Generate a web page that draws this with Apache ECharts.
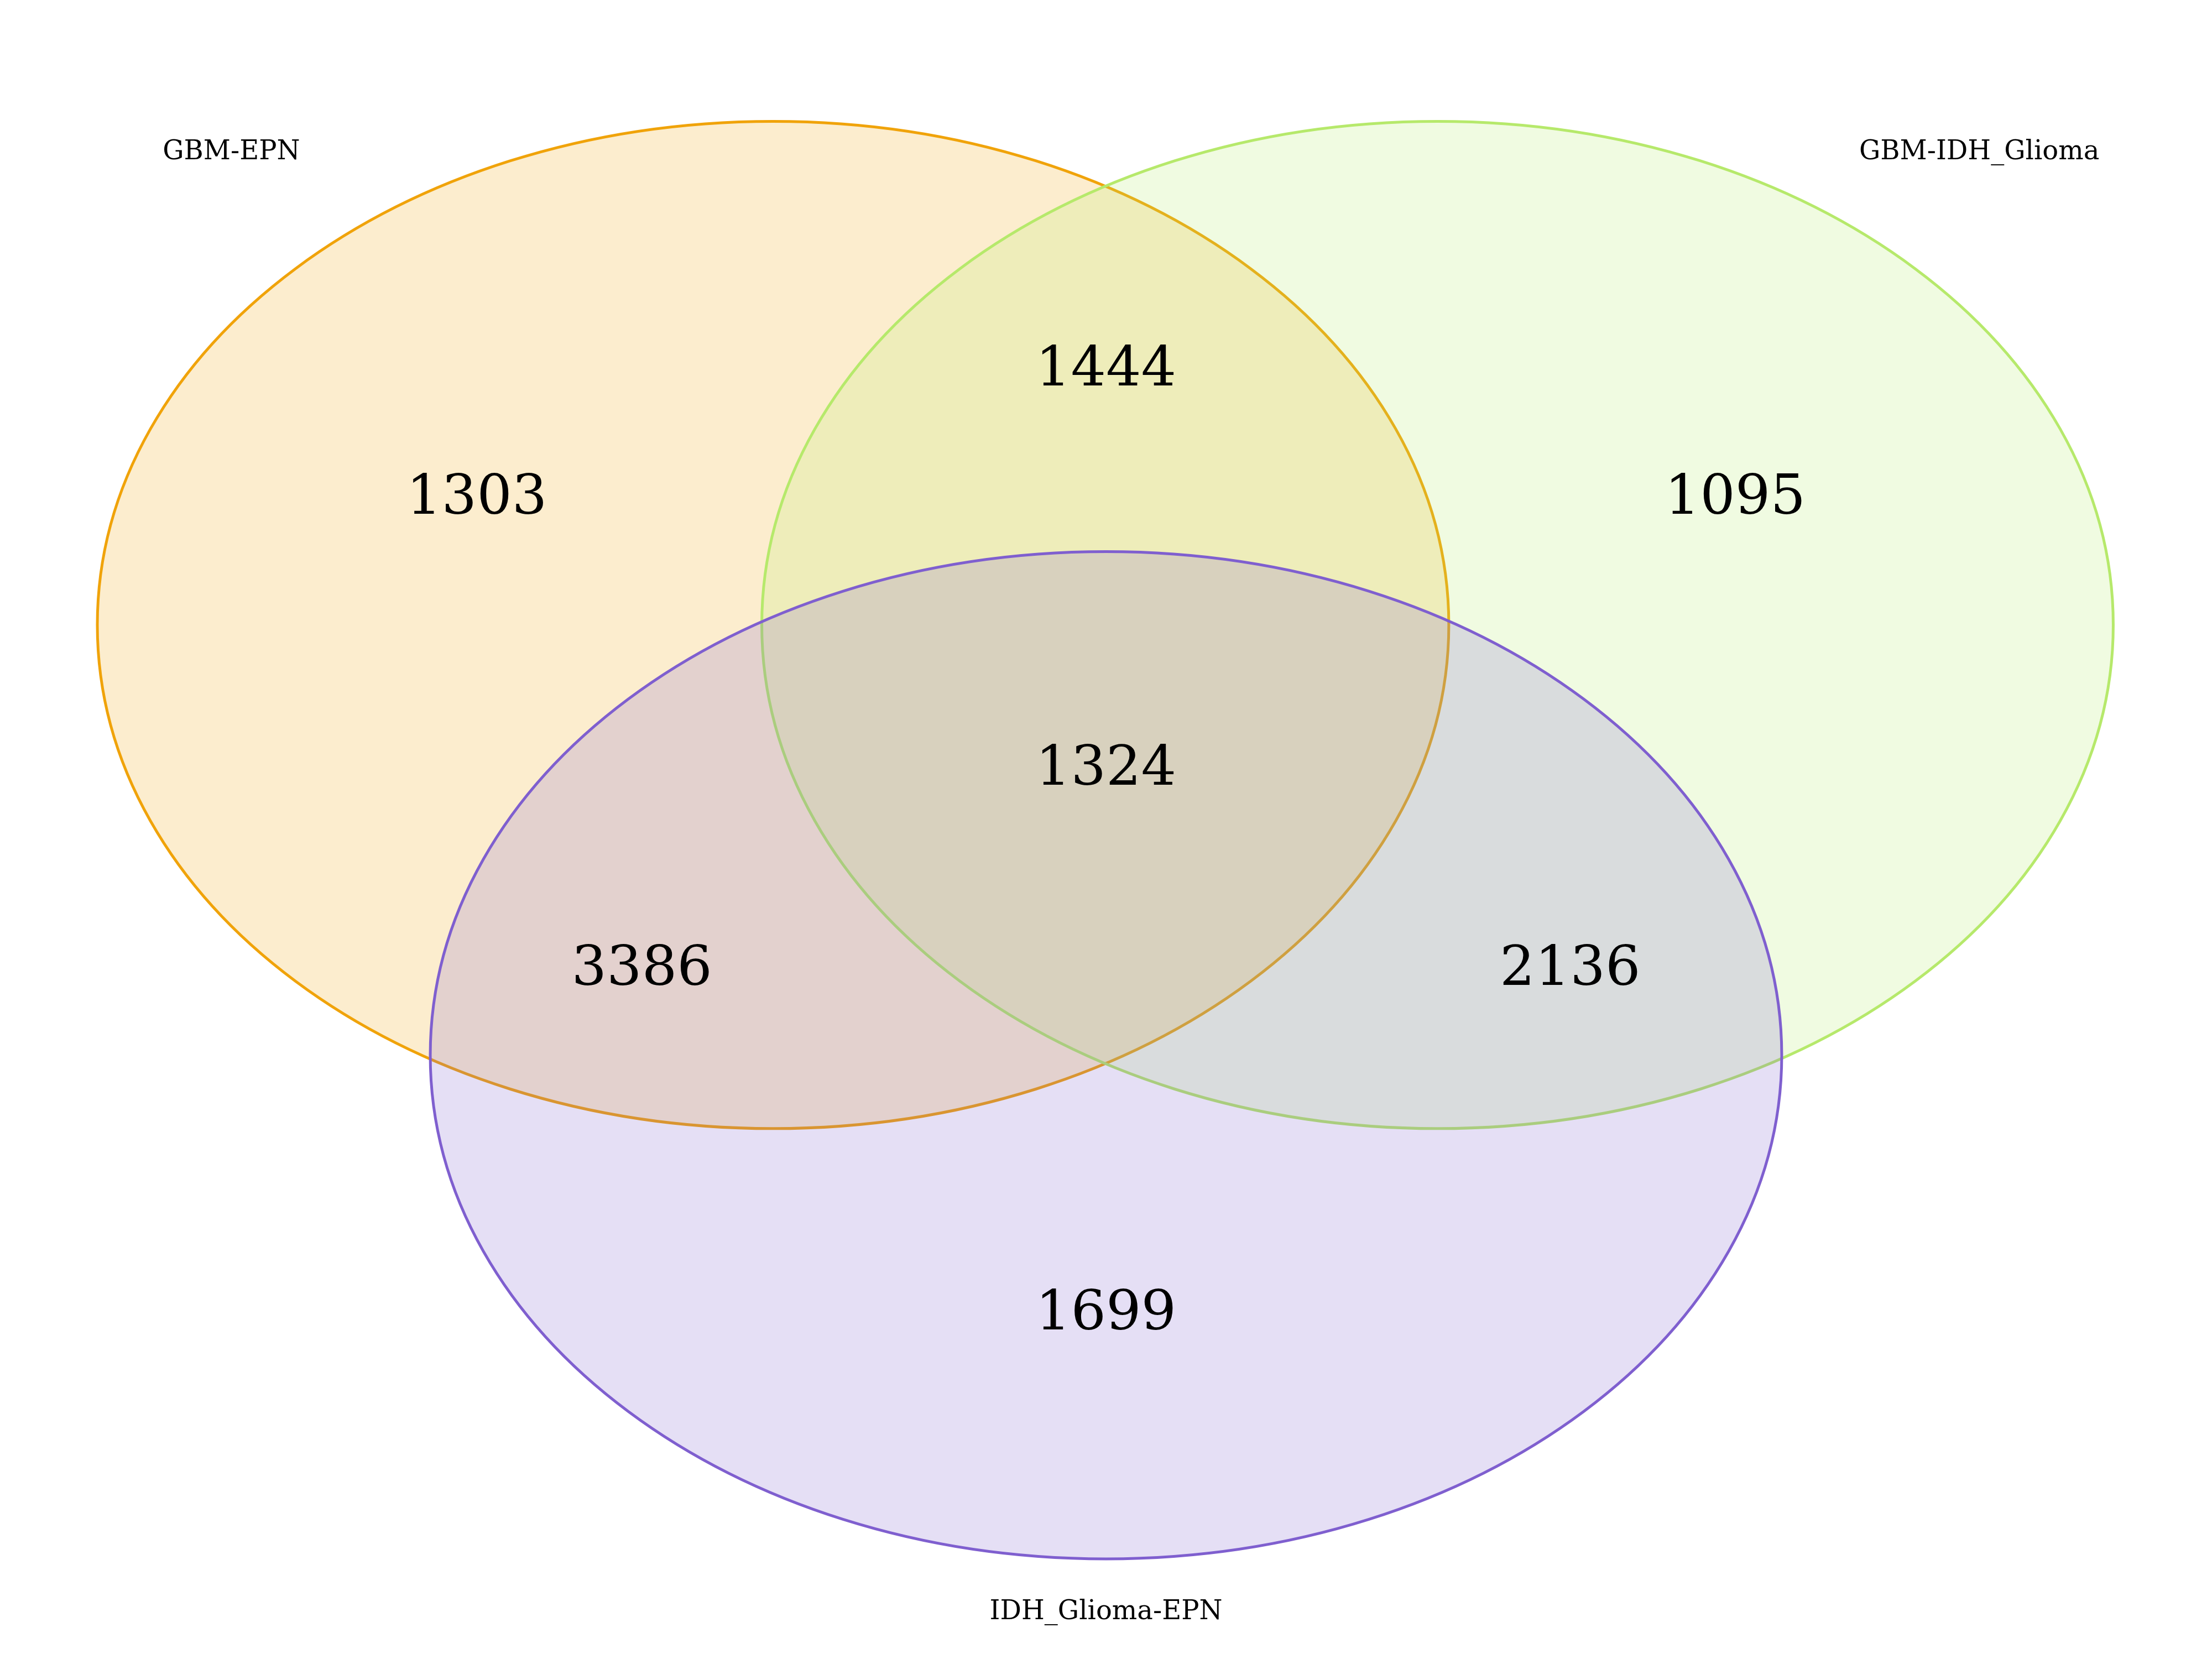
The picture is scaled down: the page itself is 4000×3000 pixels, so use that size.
<!DOCTYPE html>
<html><head><meta charset="utf-8">
<script src="https://cdn.jsdelivr.net/npm/echarts@6/dist/echarts.min.js"></script>
<style>html,body{margin:0;padding:0;background:#fff}#c{width:4000px;height:3000px}</style>
</head><body><div id="c"></div>
<script>
// Set names and colours
var setNames = ['GBM-EPN', 'GBM-IDH_Glioma', 'IDH_Glioma-EPN'];
var setColors = ['#F0A30A', '#B6E96B', '#7F5FCF'];
// Region counts
var regionLabels = ['1303', '1444', '1095', '3386', '1324', '2136', '1699'];
var regionValues = [1303, 1444, 1095, 3386, 1324, 2136, 1699];
// Layout (in a 1568 x 1176 coordinate space)
var ellipseLayout = [[548, 443, 479, 357], [1019, 443, 479, 357], [784, 748, 479, 357]];
var regionPos = [[338, 354], [784, 263], [1230, 354], [455, 688], [784, 546], [1113, 688], [784, 932]];
var setLabelPos = [[164, 108], [1403, 108], [784, 1143]];

var chart = echarts.init(document.getElementById('c'));
chart.setOption({
  animation: false,
  grid: {left: 0, right: 0, top: 0, bottom: 0},
  xAxis: {type: 'value', min: 0, max: 1568, show: false},
  yAxis: {type: 'value', min: 0, max: 1176, inverse: true, show: false},
  series: [{
    type: 'custom',
    data: ellipseLayout.map(function (e, i) { return [e[0], e[1], e[2], e[3], i]; }),
    renderItem: function (params, api) {
      var i = api.value(4);
      var c = api.coord([api.value(0), api.value(1)]);
      var c2 = api.coord([api.value(0) + api.value(2), api.value(1) + api.value(3)]);
      return {
        type: 'ellipse',
        shape: {cx: c[0], cy: c[1], rx: c2[0] - c[0], ry: c2[1] - c[1]},
        style: {fill: echarts.color.modifyAlpha(setColors[i], 0.2), stroke: setColors[i], lineWidth: 5}
      };
    }
  }, {
    type: 'custom',
    data: regionPos.map(function (p, i) { return [p[0], p[1], i]; }),
    renderItem: function (params, api) {
      var c = api.coord([api.value(0), api.value(1)]);
      return {type: 'text', style: {text: regionLabels[api.value(2)], x: c[0], y: c[1],
        textAlign: 'center', textVerticalAlign: 'middle', fontFamily: 'DejaVu Serif', fontSize: 100, fill: '#000'}};
    }
  }, {
    type: 'custom',
    data: setLabelPos.map(function (p, i) { return [p[0], p[1], i]; }),
    renderItem: function (params, api) {
      var c = api.coord([api.value(0), api.value(1)]);
      return {type: 'text', style: {text: setNames[api.value(2)], x: c[0], y: c[1],
        textAlign: 'center', textVerticalAlign: 'middle', fontFamily: 'DejaVu Serif', fontSize: 48, fill: '#000'}};
    }
  }]
});
</script></body></html>
